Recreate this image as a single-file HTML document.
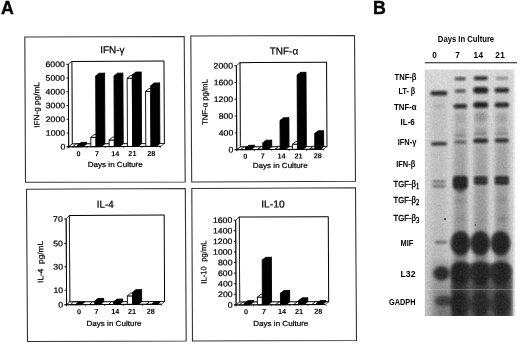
<!DOCTYPE html>
<html lang="en"><head><meta charset="utf-8"><title>Figure</title>
<style>html,body{margin:0;padding:0;background:#fff}svg{display:block}text{font-family:"Liberation Sans", sans-serif;fill:#000}.m{stroke:#000;stroke-width:0.35px}.n{stroke:#000;stroke-width:0.22px}</style></head><body>
<svg width="520" height="344" viewBox="0 0 520 344">
<rect x="0" y="0" width="520" height="344" fill="#fff"/>
<text x="0.9" y="14.1" font-size="17.8" text-anchor="start" font-weight="bold" class="m">A</text>
<text x="373.0" y="14.1" font-size="17.8" text-anchor="start" font-weight="bold" class="m">B</text>
<polygon points="24.80,37.00 184.20,36.50 185.20,182.00 25.50,182.20" fill="none" stroke="#333" stroke-width="1.1" stroke-linejoin="miter"/>
<polygon points="190.80,36.00 354.50,35.50 355.50,181.30 191.70,182.00" fill="none" stroke="#333" stroke-width="1.1" stroke-linejoin="miter"/>
<polygon points="26.50,189.20 185.30,188.50 186.20,341.00 27.50,341.50" fill="none" stroke="#333" stroke-width="1.1" stroke-linejoin="miter"/>
<polygon points="191.80,188.50 355.50,187.80 356.50,340.50 192.50,341.00" fill="none" stroke="#333" stroke-width="1.1" stroke-linejoin="miter"/>
<g transform="rotate(-0.28 108.3 108.9)">
<polygon points="72.00,61.25 164.20,61.25 164.20,143.80 72.00,143.80" fill="#fff" stroke="#000" stroke-width="1.0" stroke-linejoin="round"/>
<polygon points="68.50,64.10 72.00,61.25 72.00,143.80 68.50,146.60" fill="#fff" stroke="#000" stroke-width="0.7" stroke-linejoin="round"/>
<polygon points="68.50,146.60 72.00,143.80 164.20,143.80 160.70,146.60" fill="#fff" stroke="#000" stroke-width="0.7" stroke-linejoin="round"/>
<line x1="68.5" y1="64.1" x2="68.5" y2="148.1" stroke="#000" stroke-width="0.9"/>
<line x1="66.5" y1="146.6" x2="68.5" y2="146.6" stroke="#000" stroke-width="0.9"/>
<text x="65.1" y="149.29999999999998" font-size="7.9" text-anchor="end" font-weight="normal" textLength="4.85" lengthAdjust="spacingAndGlyphs" class="n">0</text>
<line x1="66.5" y1="132.85" x2="68.5" y2="132.85" stroke="#000" stroke-width="0.9"/>
<text x="65.1" y="135.54999999999998" font-size="7.9" text-anchor="end" font-weight="normal" textLength="19.4" lengthAdjust="spacingAndGlyphs" class="n">1000</text>
<line x1="66.5" y1="119.1" x2="68.5" y2="119.1" stroke="#000" stroke-width="0.9"/>
<text x="65.1" y="121.8" font-size="7.9" text-anchor="end" font-weight="normal" textLength="19.4" lengthAdjust="spacingAndGlyphs" class="n">2000</text>
<line x1="66.5" y1="105.35" x2="68.5" y2="105.35" stroke="#000" stroke-width="0.9"/>
<text x="65.1" y="108.05" font-size="7.9" text-anchor="end" font-weight="normal" textLength="19.4" lengthAdjust="spacingAndGlyphs" class="n">3000</text>
<line x1="66.5" y1="91.6" x2="68.5" y2="91.6" stroke="#000" stroke-width="0.9"/>
<text x="65.1" y="94.3" font-size="7.9" text-anchor="end" font-weight="normal" textLength="19.4" lengthAdjust="spacingAndGlyphs" class="n">4000</text>
<line x1="66.5" y1="77.85" x2="68.5" y2="77.85" stroke="#000" stroke-width="0.9"/>
<text x="65.1" y="80.55" font-size="7.9" text-anchor="end" font-weight="normal" textLength="19.4" lengthAdjust="spacingAndGlyphs" class="n">5000</text>
<line x1="66.5" y1="64.1" x2="68.5" y2="64.1" stroke="#000" stroke-width="0.9"/>
<text x="65.1" y="66.8" font-size="7.9" text-anchor="end" font-weight="normal" textLength="19.4" lengthAdjust="spacingAndGlyphs" class="n">6000</text>
<polygon points="72.30,146.60 77.50,146.60 81.00,143.80 75.80,143.80" fill="#fff" stroke="#000" stroke-width="0.9" stroke-linejoin="round"/>
<polygon points="82.90,146.60 86.40,143.80 86.40,142.30 82.90,145.10" fill="#000" stroke="#000" stroke-width="0.9" stroke-linejoin="round"/>
<polygon points="77.50,146.60 82.90,146.60 82.90,145.10 77.50,145.10" fill="#000" stroke="#000" stroke-width="0.9" stroke-linejoin="round"/>
<polygon points="77.50,145.10 82.90,145.10 86.40,142.30 81.00,142.30" fill="#000" stroke="#000" stroke-width="0.9" stroke-linejoin="round"/>
<polygon points="95.83,146.60 99.33,143.80 99.33,134.50 95.83,137.30" fill="#fff" stroke="#000" stroke-width="0.9" stroke-linejoin="round"/>
<polygon points="90.63,146.60 95.83,146.60 95.83,137.30 90.63,137.30" fill="#fff" stroke="#000" stroke-width="0.9" stroke-linejoin="round"/>
<polygon points="90.63,137.30 95.83,137.30 99.33,134.50 94.13,134.50" fill="#fff" stroke="#000" stroke-width="0.9" stroke-linejoin="round"/>
<polygon points="101.23,146.60 104.73,143.80 104.73,73.20 101.23,76.00" fill="#000" stroke="#000" stroke-width="0.9" stroke-linejoin="round"/>
<polygon points="95.83,146.60 101.23,146.60 101.23,76.00 95.83,76.00" fill="#000" stroke="#000" stroke-width="0.9" stroke-linejoin="round"/>
<polygon points="95.83,76.00 101.23,76.00 104.73,73.20 99.33,73.20" fill="#000" stroke="#000" stroke-width="0.9" stroke-linejoin="round"/>
<polygon points="114.16,146.60 117.66,143.80 117.66,137.20 114.16,140.00" fill="#fff" stroke="#000" stroke-width="0.9" stroke-linejoin="round"/>
<polygon points="108.96,146.60 114.16,146.60 114.16,140.00 108.96,140.00" fill="#fff" stroke="#000" stroke-width="0.9" stroke-linejoin="round"/>
<polygon points="108.96,140.00 114.16,140.00 117.66,137.20 112.46,137.20" fill="#fff" stroke="#000" stroke-width="0.9" stroke-linejoin="round"/>
<polygon points="119.56,146.60 123.06,143.80 123.06,73.20 119.56,76.00" fill="#000" stroke="#000" stroke-width="0.9" stroke-linejoin="round"/>
<polygon points="114.16,146.60 119.56,146.60 119.56,76.00 114.16,76.00" fill="#000" stroke="#000" stroke-width="0.9" stroke-linejoin="round"/>
<polygon points="114.16,76.00 119.56,76.00 123.06,73.20 117.66,73.20" fill="#000" stroke="#000" stroke-width="0.9" stroke-linejoin="round"/>
<polygon points="132.49,146.60 135.99,143.80 135.99,75.50 132.49,78.30" fill="#fff" stroke="#000" stroke-width="0.9" stroke-linejoin="round"/>
<polygon points="127.29,146.60 132.49,146.60 132.49,78.30 127.29,78.30" fill="#fff" stroke="#000" stroke-width="0.9" stroke-linejoin="round"/>
<polygon points="127.29,78.30 132.49,78.30 135.99,75.50 130.79,75.50" fill="#fff" stroke="#000" stroke-width="0.9" stroke-linejoin="round"/>
<polygon points="137.89,146.60 141.39,143.80 141.39,72.20 137.89,75.00" fill="#000" stroke="#000" stroke-width="0.9" stroke-linejoin="round"/>
<polygon points="132.49,146.60 137.89,146.60 137.89,75.00 132.49,75.00" fill="#000" stroke="#000" stroke-width="0.9" stroke-linejoin="round"/>
<polygon points="132.49,75.00 137.89,75.00 141.39,72.20 135.99,72.20" fill="#000" stroke="#000" stroke-width="0.9" stroke-linejoin="round"/>
<polygon points="150.82,146.60 154.32,143.80 154.32,88.80 150.82,91.60" fill="#fff" stroke="#000" stroke-width="0.9" stroke-linejoin="round"/>
<polygon points="145.62,146.60 150.82,146.60 150.82,91.60 145.62,91.60" fill="#fff" stroke="#000" stroke-width="0.9" stroke-linejoin="round"/>
<polygon points="145.62,91.60 150.82,91.60 154.32,88.80 149.12,88.80" fill="#fff" stroke="#000" stroke-width="0.9" stroke-linejoin="round"/>
<polygon points="156.22,146.60 159.72,143.80 159.72,83.20 156.22,86.00" fill="#000" stroke="#000" stroke-width="0.9" stroke-linejoin="round"/>
<polygon points="150.82,146.60 156.22,146.60 156.22,86.00 150.82,86.00" fill="#000" stroke="#000" stroke-width="0.9" stroke-linejoin="round"/>
<polygon points="150.82,86.00 156.22,86.00 159.72,83.20 154.32,83.20" fill="#000" stroke="#000" stroke-width="0.9" stroke-linejoin="round"/>
<line x1="66.3" y1="146.6" x2="160.7" y2="146.6" stroke="#000" stroke-width="0.9"/>
<text x="78.25" y="156.2" font-size="7.3" text-anchor="middle" font-weight="bold">0</text>
<text x="96.75" y="156.2" font-size="7.3" text-anchor="middle" font-weight="bold">7</text>
<text x="115" y="156.2" font-size="7.3" text-anchor="middle" font-weight="bold">14</text>
<text x="132.2" y="156.2" font-size="7.3" text-anchor="middle" font-weight="bold">21</text>
<text x="151" y="156.2" font-size="7.3" text-anchor="middle" font-weight="bold">28</text>
<line x1="86.77" y1="146.6" x2="86.77" y2="148.2" stroke="#000" stroke-width="0.6"/>
<line x1="105.09" y1="146.6" x2="105.09" y2="148.2" stroke="#000" stroke-width="0.6"/>
<line x1="123.42" y1="146.6" x2="123.42" y2="148.2" stroke="#000" stroke-width="0.6"/>
<line x1="141.75" y1="146.6" x2="141.75" y2="148.2" stroke="#000" stroke-width="0.6"/>
<line x1="160.08" y1="146.6" x2="160.08" y2="148.2" stroke="#000" stroke-width="0.6"/>
<text x="112.65" y="53.3" font-size="10.0" text-anchor="middle" font-weight="normal" textLength="24.3" lengthAdjust="spacingAndGlyphs" class="n">IFN-γ</text>
<text x="115" y="167" font-size="7.4" text-anchor="middle" font-weight="normal" textLength="55" lengthAdjust="spacingAndGlyphs" class="n">Days in Culture</text>
<text transform="translate(39.3,104.6) rotate(-90)" font-size="7.8" text-anchor="middle" class="n" textLength="45.6" lengthAdjust="spacingAndGlyphs" style="white-space:pre">IFN-g pg/mL</text>
</g>
<g transform="rotate(-0.28 273.7 111.0)">
<polygon points="240.10,62.50 326.80,62.50 326.80,146.80 240.10,146.80" fill="#fff" stroke="#000" stroke-width="1.0" stroke-linejoin="round"/>
<polygon points="236.60,65.50 240.10,62.50 240.10,146.80 236.60,149.50" fill="#fff" stroke="#000" stroke-width="0.7" stroke-linejoin="round"/>
<polygon points="236.60,149.50 240.10,146.80 326.80,146.80 323.30,149.50" fill="#fff" stroke="#000" stroke-width="0.7" stroke-linejoin="round"/>
<line x1="236.6" y1="65.5" x2="236.6" y2="151.0" stroke="#000" stroke-width="0.9"/>
<line x1="234.6" y1="149.5" x2="236.6" y2="149.5" stroke="#000" stroke-width="0.9"/>
<text x="233.2" y="152.2" font-size="7.9" text-anchor="end" font-weight="normal" textLength="4.85" lengthAdjust="spacingAndGlyphs" class="n">0</text>
<line x1="234.6" y1="132.7" x2="236.6" y2="132.7" stroke="#000" stroke-width="0.9"/>
<text x="233.2" y="135.39999999999998" font-size="7.9" text-anchor="end" font-weight="normal" textLength="14.55" lengthAdjust="spacingAndGlyphs" class="n">400</text>
<line x1="234.6" y1="115.9" x2="236.6" y2="115.9" stroke="#000" stroke-width="0.9"/>
<text x="233.2" y="118.60000000000001" font-size="7.9" text-anchor="end" font-weight="normal" textLength="14.55" lengthAdjust="spacingAndGlyphs" class="n">800</text>
<line x1="234.6" y1="99.1" x2="236.6" y2="99.1" stroke="#000" stroke-width="0.9"/>
<text x="233.2" y="101.8" font-size="7.9" text-anchor="end" font-weight="normal" textLength="19.4" lengthAdjust="spacingAndGlyphs" class="n">1200</text>
<line x1="234.6" y1="82.3" x2="236.6" y2="82.3" stroke="#000" stroke-width="0.9"/>
<text x="233.2" y="85.0" font-size="7.9" text-anchor="end" font-weight="normal" textLength="19.4" lengthAdjust="spacingAndGlyphs" class="n">1600</text>
<line x1="234.6" y1="65.5" x2="236.6" y2="65.5" stroke="#000" stroke-width="0.9"/>
<text x="233.2" y="68.2" font-size="7.9" text-anchor="end" font-weight="normal" textLength="19.4" lengthAdjust="spacingAndGlyphs" class="n">2000</text>
<polygon points="240.30,149.50 245.30,149.50 248.80,146.80 243.80,146.80" fill="#fff" stroke="#000" stroke-width="0.9" stroke-linejoin="round"/>
<polygon points="250.70,149.50 254.20,146.80 254.20,145.20 250.70,147.90" fill="#000" stroke="#000" stroke-width="0.9" stroke-linejoin="round"/>
<polygon points="245.30,149.50 250.70,149.50 250.70,147.90 245.30,147.90" fill="#000" stroke="#000" stroke-width="0.9" stroke-linejoin="round"/>
<polygon points="245.30,147.90 250.70,147.90 254.20,145.20 248.80,145.20" fill="#000" stroke="#000" stroke-width="0.9" stroke-linejoin="round"/>
<polygon points="262.63,149.50 266.13,146.80 266.13,146.40 262.63,149.10" fill="#fff" stroke="#000" stroke-width="0.9" stroke-linejoin="round"/>
<polygon points="257.63,149.50 262.63,149.50 262.63,149.10 257.63,149.10" fill="#fff" stroke="#000" stroke-width="0.9" stroke-linejoin="round"/>
<polygon points="257.63,149.10 262.63,149.10 266.13,146.40 261.13,146.40" fill="#fff" stroke="#000" stroke-width="0.9" stroke-linejoin="round"/>
<polygon points="268.03,149.50 271.53,146.80 271.53,140.20 268.03,142.90" fill="#000" stroke="#000" stroke-width="0.9" stroke-linejoin="round"/>
<polygon points="262.63,149.50 268.03,149.50 268.03,142.90 262.63,142.90" fill="#000" stroke="#000" stroke-width="0.9" stroke-linejoin="round"/>
<polygon points="262.63,142.90 268.03,142.90 271.53,140.20 266.13,140.20" fill="#000" stroke="#000" stroke-width="0.9" stroke-linejoin="round"/>
<polygon points="279.96,149.50 283.46,146.80 283.46,146.40 279.96,149.10" fill="#fff" stroke="#000" stroke-width="0.9" stroke-linejoin="round"/>
<polygon points="274.96,149.50 279.96,149.50 279.96,149.10 274.96,149.10" fill="#fff" stroke="#000" stroke-width="0.9" stroke-linejoin="round"/>
<polygon points="274.96,149.10 279.96,149.10 283.46,146.40 278.46,146.40" fill="#fff" stroke="#000" stroke-width="0.9" stroke-linejoin="round"/>
<polygon points="285.36,149.50 288.86,146.80 288.86,117.80 285.36,120.50" fill="#000" stroke="#000" stroke-width="0.9" stroke-linejoin="round"/>
<polygon points="279.96,149.50 285.36,149.50 285.36,120.50 279.96,120.50" fill="#000" stroke="#000" stroke-width="0.9" stroke-linejoin="round"/>
<polygon points="279.96,120.50 285.36,120.50 288.86,117.80 283.46,117.80" fill="#000" stroke="#000" stroke-width="0.9" stroke-linejoin="round"/>
<polygon points="297.29,149.50 300.79,146.80 300.79,141.60 297.29,144.30" fill="#fff" stroke="#000" stroke-width="0.9" stroke-linejoin="round"/>
<polygon points="292.29,149.50 297.29,149.50 297.29,144.30 292.29,144.30" fill="#fff" stroke="#000" stroke-width="0.9" stroke-linejoin="round"/>
<polygon points="292.29,144.30 297.29,144.30 300.79,141.60 295.79,141.60" fill="#fff" stroke="#000" stroke-width="0.9" stroke-linejoin="round"/>
<polygon points="302.69,149.50 306.19,146.80 306.19,72.50 302.69,75.20" fill="#000" stroke="#000" stroke-width="0.9" stroke-linejoin="round"/>
<polygon points="297.29,149.50 302.69,149.50 302.69,75.20 297.29,75.20" fill="#000" stroke="#000" stroke-width="0.9" stroke-linejoin="round"/>
<polygon points="297.29,75.20 302.69,75.20 306.19,72.50 300.79,72.50" fill="#000" stroke="#000" stroke-width="0.9" stroke-linejoin="round"/>
<polygon points="314.62,149.50 318.12,146.80 318.12,146.40 314.62,149.10" fill="#fff" stroke="#000" stroke-width="0.9" stroke-linejoin="round"/>
<polygon points="309.62,149.50 314.62,149.50 314.62,149.10 309.62,149.10" fill="#fff" stroke="#000" stroke-width="0.9" stroke-linejoin="round"/>
<polygon points="309.62,149.10 314.62,149.10 318.12,146.40 313.12,146.40" fill="#fff" stroke="#000" stroke-width="0.9" stroke-linejoin="round"/>
<polygon points="320.02,149.50 323.52,146.80 323.52,131.00 320.02,133.70" fill="#000" stroke="#000" stroke-width="0.9" stroke-linejoin="round"/>
<polygon points="314.62,149.50 320.02,149.50 320.02,133.70 314.62,133.70" fill="#000" stroke="#000" stroke-width="0.9" stroke-linejoin="round"/>
<polygon points="314.62,133.70 320.02,133.70 323.52,131.00 318.12,131.00" fill="#000" stroke="#000" stroke-width="0.9" stroke-linejoin="round"/>
<line x1="234.4" y1="149.5" x2="323.3" y2="149.5" stroke="#000" stroke-width="0.9"/>
<text x="245" y="158.5" font-size="7.3" text-anchor="middle" font-weight="bold">0</text>
<text x="262.5" y="158.5" font-size="7.3" text-anchor="middle" font-weight="bold">7</text>
<text x="281.25" y="158.5" font-size="7.3" text-anchor="middle" font-weight="bold">14</text>
<text x="298.25" y="158.5" font-size="7.3" text-anchor="middle" font-weight="bold">21</text>
<text x="317.5" y="158.5" font-size="7.3" text-anchor="middle" font-weight="bold">28</text>
<line x1="254.16" y1="149.5" x2="254.16" y2="151.1" stroke="#000" stroke-width="0.6"/>
<line x1="271.50" y1="149.5" x2="271.50" y2="151.1" stroke="#000" stroke-width="0.6"/>
<line x1="288.83" y1="149.5" x2="288.83" y2="151.1" stroke="#000" stroke-width="0.6"/>
<line x1="306.16" y1="149.5" x2="306.16" y2="151.1" stroke="#000" stroke-width="0.6"/>
<line x1="323.49" y1="149.5" x2="323.49" y2="151.1" stroke="#000" stroke-width="0.6"/>
<text x="284.25" y="54.5" font-size="10.0" text-anchor="middle" font-weight="normal" textLength="28.5" lengthAdjust="spacingAndGlyphs" class="n">TNF-α</text>
<text x="280" y="168.0" font-size="7.4" text-anchor="middle" font-weight="normal" textLength="55" lengthAdjust="spacingAndGlyphs" class="n">Days in Culture</text>
<text transform="translate(207.6,101.75) rotate(-90)" font-size="7.8" text-anchor="middle" class="n" textLength="46" lengthAdjust="spacingAndGlyphs" style="white-space:pre">TNF-α pg/mL</text>
</g>
<g transform="rotate(-0.28 107.4 264.9)">
<polygon points="69.60,215.40 164.40,215.40 164.40,301.80 69.60,301.80" fill="#fff" stroke="#000" stroke-width="1.0" stroke-linejoin="round"/>
<polygon points="66.40,218.75 69.60,215.40 69.60,301.80 66.40,304.50" fill="#fff" stroke="#000" stroke-width="0.7" stroke-linejoin="round"/>
<polygon points="66.40,304.50 69.60,301.80 164.40,301.80 161.20,304.50" fill="#fff" stroke="#000" stroke-width="0.7" stroke-linejoin="round"/>
<line x1="66.4" y1="218.75" x2="66.4" y2="306.0" stroke="#000" stroke-width="0.9"/>
<line x1="64.4" y1="304.5" x2="66.4" y2="304.5" stroke="#000" stroke-width="0.9"/>
<text x="63.00000000000001" y="307.2" font-size="7.9" text-anchor="end" font-weight="normal" textLength="4.85" lengthAdjust="spacingAndGlyphs" class="n">0</text>
<line x1="64.4" y1="290.0" x2="66.4" y2="290.0" stroke="#000" stroke-width="0.9"/>
<text x="63.00000000000001" y="292.7" font-size="7.9" text-anchor="end" font-weight="normal" textLength="9.7" lengthAdjust="spacingAndGlyphs" class="n">10</text>
<line x1="64.4" y1="266.6" x2="66.4" y2="266.6" stroke="#000" stroke-width="0.9"/>
<text x="63.00000000000001" y="269.3" font-size="7.9" text-anchor="end" font-weight="normal" textLength="9.7" lengthAdjust="spacingAndGlyphs" class="n">30</text>
<line x1="64.4" y1="243.2" x2="66.4" y2="243.2" stroke="#000" stroke-width="0.9"/>
<text x="63.00000000000001" y="245.89999999999998" font-size="7.9" text-anchor="end" font-weight="normal" textLength="9.7" lengthAdjust="spacingAndGlyphs" class="n">50</text>
<line x1="64.4" y1="218.75" x2="66.4" y2="218.75" stroke="#000" stroke-width="0.9"/>
<text x="63.00000000000001" y="221.45" font-size="7.9" text-anchor="end" font-weight="normal" textLength="9.7" lengthAdjust="spacingAndGlyphs" class="n">70</text>
<polygon points="70.20,304.50 75.50,304.50 78.70,301.80 73.40,301.80" fill="#fff" stroke="#000" stroke-width="0.9" stroke-linejoin="round"/>
<polygon points="75.50,304.50 81.30,304.50 84.50,301.80 78.70,301.80" fill="#000" stroke="#000" stroke-width="0.9" stroke-linejoin="round"/>
<polygon points="89.20,304.50 94.50,304.50 97.70,301.80 92.40,301.80" fill="#fff" stroke="#000" stroke-width="0.9" stroke-linejoin="round"/>
<polygon points="100.30,304.50 103.50,301.80 103.50,298.40 100.30,301.10" fill="#000" stroke="#000" stroke-width="0.9" stroke-linejoin="round"/>
<polygon points="94.50,304.50 100.30,304.50 100.30,301.10 94.50,301.10" fill="#000" stroke="#000" stroke-width="0.9" stroke-linejoin="round"/>
<polygon points="94.50,301.10 100.30,301.10 103.50,298.40 97.70,298.40" fill="#000" stroke="#000" stroke-width="0.9" stroke-linejoin="round"/>
<polygon points="108.20,304.50 113.50,304.50 116.70,301.80 111.40,301.80" fill="#fff" stroke="#000" stroke-width="0.9" stroke-linejoin="round"/>
<polygon points="119.30,304.50 122.50,301.80 122.50,299.20 119.30,301.90" fill="#000" stroke="#000" stroke-width="0.9" stroke-linejoin="round"/>
<polygon points="113.50,304.50 119.30,304.50 119.30,301.90 113.50,301.90" fill="#000" stroke="#000" stroke-width="0.9" stroke-linejoin="round"/>
<polygon points="113.50,301.90 119.30,301.90 122.50,299.20 116.70,299.20" fill="#000" stroke="#000" stroke-width="0.9" stroke-linejoin="round"/>
<polygon points="132.50,304.50 135.70,301.80 135.70,293.30 132.50,296.00" fill="#fff" stroke="#000" stroke-width="0.9" stroke-linejoin="round"/>
<polygon points="127.20,304.50 132.50,304.50 132.50,296.00 127.20,296.00" fill="#fff" stroke="#000" stroke-width="0.9" stroke-linejoin="round"/>
<polygon points="127.20,296.00 132.50,296.00 135.70,293.30 130.40,293.30" fill="#fff" stroke="#000" stroke-width="0.9" stroke-linejoin="round"/>
<polygon points="138.30,304.50 141.50,301.80 141.50,289.80 138.30,292.50" fill="#000" stroke="#000" stroke-width="0.9" stroke-linejoin="round"/>
<polygon points="132.50,304.50 138.30,304.50 138.30,292.50 132.50,292.50" fill="#000" stroke="#000" stroke-width="0.9" stroke-linejoin="round"/>
<polygon points="132.50,292.50 138.30,292.50 141.50,289.80 135.70,289.80" fill="#000" stroke="#000" stroke-width="0.9" stroke-linejoin="round"/>
<polygon points="146.20,304.50 151.50,304.50 154.70,301.80 149.40,301.80" fill="#fff" stroke="#000" stroke-width="0.9" stroke-linejoin="round"/>
<polygon points="151.50,304.50 157.30,304.50 160.50,301.80 154.70,301.80" fill="#000" stroke="#000" stroke-width="0.9" stroke-linejoin="round"/>
<line x1="64.2" y1="304.5" x2="161.20000000000002" y2="304.5" stroke="#000" stroke-width="0.9"/>
<text x="78.75" y="314.0" font-size="7.3" text-anchor="middle" font-weight="bold">0</text>
<text x="96.25" y="314.0" font-size="7.3" text-anchor="middle" font-weight="bold">7</text>
<text x="115" y="314.0" font-size="7.3" text-anchor="middle" font-weight="bold">14</text>
<text x="131.75" y="314.0" font-size="7.3" text-anchor="middle" font-weight="bold">21</text>
<text x="150.5" y="314.0" font-size="7.3" text-anchor="middle" font-weight="bold">28</text>
<line x1="85.25" y1="304.5" x2="85.25" y2="306.1" stroke="#000" stroke-width="0.6"/>
<line x1="104.25" y1="304.5" x2="104.25" y2="306.1" stroke="#000" stroke-width="0.6"/>
<line x1="123.25" y1="304.5" x2="123.25" y2="306.1" stroke="#000" stroke-width="0.6"/>
<line x1="142.25" y1="304.5" x2="142.25" y2="306.1" stroke="#000" stroke-width="0.6"/>
<line x1="161.25" y1="304.5" x2="161.25" y2="306.1" stroke="#000" stroke-width="0.6"/>
<text x="105.5" y="207.8" font-size="10.0" text-anchor="middle" font-weight="normal" textLength="17" lengthAdjust="spacingAndGlyphs" class="n">IL-4</text>
<text x="113.75" y="326" font-size="7.4" text-anchor="middle" font-weight="normal" textLength="55" lengthAdjust="spacingAndGlyphs" class="n">Days in Culture</text>
<text transform="translate(43.2,261.6) rotate(-90)" font-size="7.8" text-anchor="middle" class="n" textLength="42" lengthAdjust="spacingAndGlyphs" style="white-space:pre">IL-4  pg/mL</text>
</g>
<g transform="rotate(-0.28 274.2 265.8)">
<polygon points="239.50,216.90 328.50,216.90 328.50,302.00 239.50,302.00" fill="#fff" stroke="#000" stroke-width="1.0" stroke-linejoin="round"/>
<polygon points="235.90,220.00 239.50,216.90 239.50,302.00 235.90,304.75" fill="#fff" stroke="#000" stroke-width="0.7" stroke-linejoin="round"/>
<polygon points="235.90,304.75 239.50,302.00 328.50,302.00 324.90,304.75" fill="#fff" stroke="#000" stroke-width="0.7" stroke-linejoin="round"/>
<line x1="235.9" y1="220.0" x2="235.9" y2="306.25" stroke="#000" stroke-width="0.9"/>
<line x1="233.9" y1="304.75" x2="235.9" y2="304.75" stroke="#000" stroke-width="0.9"/>
<text x="232.5" y="307.45" font-size="7.9" text-anchor="end" font-weight="normal" textLength="4.85" lengthAdjust="spacingAndGlyphs" class="n">0</text>
<line x1="233.9" y1="294.15" x2="235.9" y2="294.15" stroke="#000" stroke-width="0.9"/>
<text x="232.5" y="296.84999999999997" font-size="7.9" text-anchor="end" font-weight="normal" textLength="14.55" lengthAdjust="spacingAndGlyphs" class="n">200</text>
<line x1="233.9" y1="283.55" x2="235.9" y2="283.55" stroke="#000" stroke-width="0.9"/>
<text x="232.5" y="286.25" font-size="7.9" text-anchor="end" font-weight="normal" textLength="14.55" lengthAdjust="spacingAndGlyphs" class="n">400</text>
<line x1="233.9" y1="272.95" x2="235.9" y2="272.95" stroke="#000" stroke-width="0.9"/>
<text x="232.5" y="275.65" font-size="7.9" text-anchor="end" font-weight="normal" textLength="14.55" lengthAdjust="spacingAndGlyphs" class="n">600</text>
<line x1="233.9" y1="262.35" x2="235.9" y2="262.35" stroke="#000" stroke-width="0.9"/>
<text x="232.5" y="265.05" font-size="7.9" text-anchor="end" font-weight="normal" textLength="14.55" lengthAdjust="spacingAndGlyphs" class="n">800</text>
<line x1="233.9" y1="251.75" x2="235.9" y2="251.75" stroke="#000" stroke-width="0.9"/>
<text x="232.5" y="254.45" font-size="7.9" text-anchor="end" font-weight="normal" textLength="19.4" lengthAdjust="spacingAndGlyphs" class="n">1000</text>
<line x1="233.9" y1="241.15" x2="235.9" y2="241.15" stroke="#000" stroke-width="0.9"/>
<text x="232.5" y="243.85" font-size="7.9" text-anchor="end" font-weight="normal" textLength="19.4" lengthAdjust="spacingAndGlyphs" class="n">1200</text>
<line x1="233.9" y1="230.55" x2="235.9" y2="230.55" stroke="#000" stroke-width="0.9"/>
<text x="232.5" y="233.25" font-size="7.9" text-anchor="end" font-weight="normal" textLength="19.4" lengthAdjust="spacingAndGlyphs" class="n">1400</text>
<line x1="233.9" y1="219.95" x2="235.9" y2="219.95" stroke="#000" stroke-width="0.9"/>
<text x="232.5" y="222.64999999999998" font-size="7.9" text-anchor="end" font-weight="normal" textLength="19.4" lengthAdjust="spacingAndGlyphs" class="n">1600</text>
<polygon points="239.10,304.75 244.10,304.75 247.70,302.00 242.70,302.00" fill="#fff" stroke="#000" stroke-width="0.9" stroke-linejoin="round"/>
<polygon points="249.70,304.75 253.30,302.00 253.30,300.50 249.70,303.25" fill="#000" stroke="#000" stroke-width="0.9" stroke-linejoin="round"/>
<polygon points="244.10,304.75 249.70,304.75 249.70,303.25 244.10,303.25" fill="#000" stroke="#000" stroke-width="0.9" stroke-linejoin="round"/>
<polygon points="244.10,303.25 249.70,303.25 253.30,300.50 247.70,300.50" fill="#000" stroke="#000" stroke-width="0.9" stroke-linejoin="round"/>
<polygon points="262.20,304.75 265.80,302.00 265.80,294.25 262.20,297.00" fill="#fff" stroke="#000" stroke-width="0.9" stroke-linejoin="round"/>
<polygon points="257.20,304.75 262.20,304.75 262.20,297.00 257.20,297.00" fill="#fff" stroke="#000" stroke-width="0.9" stroke-linejoin="round"/>
<polygon points="257.20,297.00 262.20,297.00 265.80,294.25 260.80,294.25" fill="#fff" stroke="#000" stroke-width="0.9" stroke-linejoin="round"/>
<polygon points="267.80,304.75 271.40,302.00 271.40,257.30 267.80,260.05" fill="#000" stroke="#000" stroke-width="0.9" stroke-linejoin="round"/>
<polygon points="262.20,304.75 267.80,304.75 267.80,260.05 262.20,260.05" fill="#000" stroke="#000" stroke-width="0.9" stroke-linejoin="round"/>
<polygon points="262.20,260.05 267.80,260.05 271.40,257.30 265.80,257.30" fill="#000" stroke="#000" stroke-width="0.9" stroke-linejoin="round"/>
<polygon points="275.30,304.75 280.30,304.75 283.90,302.00 278.90,302.00" fill="#fff" stroke="#000" stroke-width="0.9" stroke-linejoin="round"/>
<polygon points="285.90,304.75 289.50,302.00 289.50,290.50 285.90,293.25" fill="#000" stroke="#000" stroke-width="0.9" stroke-linejoin="round"/>
<polygon points="280.30,304.75 285.90,304.75 285.90,293.25 280.30,293.25" fill="#000" stroke="#000" stroke-width="0.9" stroke-linejoin="round"/>
<polygon points="280.30,293.25 285.90,293.25 289.50,290.50 283.90,290.50" fill="#000" stroke="#000" stroke-width="0.9" stroke-linejoin="round"/>
<polygon points="293.40,304.75 298.40,304.75 302.00,302.00 297.00,302.00" fill="#fff" stroke="#000" stroke-width="0.9" stroke-linejoin="round"/>
<polygon points="304.00,304.75 307.60,302.00 307.60,298.00 304.00,300.75" fill="#000" stroke="#000" stroke-width="0.9" stroke-linejoin="round"/>
<polygon points="298.40,304.75 304.00,304.75 304.00,300.75 298.40,300.75" fill="#000" stroke="#000" stroke-width="0.9" stroke-linejoin="round"/>
<polygon points="298.40,300.75 304.00,300.75 307.60,298.00 302.00,298.00" fill="#000" stroke="#000" stroke-width="0.9" stroke-linejoin="round"/>
<polygon points="311.50,304.75 316.50,304.75 320.10,302.00 315.10,302.00" fill="#fff" stroke="#000" stroke-width="0.9" stroke-linejoin="round"/>
<polygon points="322.10,304.75 325.70,302.00 325.70,300.80 322.10,303.55" fill="#000" stroke="#000" stroke-width="0.9" stroke-linejoin="round"/>
<polygon points="316.50,304.75 322.10,304.75 322.10,303.55 316.50,303.55" fill="#000" stroke="#000" stroke-width="0.9" stroke-linejoin="round"/>
<polygon points="316.50,303.55 322.10,303.55 325.70,300.80 320.10,300.80" fill="#000" stroke="#000" stroke-width="0.9" stroke-linejoin="round"/>
<line x1="233.70000000000002" y1="304.75" x2="324.9" y2="304.75" stroke="#000" stroke-width="0.9"/>
<text x="245.8" y="314.0" font-size="7.3" text-anchor="middle" font-weight="bold">0</text>
<text x="263.8" y="314.0" font-size="7.3" text-anchor="middle" font-weight="bold">7</text>
<text x="281.75" y="314.0" font-size="7.3" text-anchor="middle" font-weight="bold">14</text>
<text x="298.75" y="314.0" font-size="7.3" text-anchor="middle" font-weight="bold">21</text>
<text x="318" y="314.0" font-size="7.3" text-anchor="middle" font-weight="bold">28</text>
<line x1="253.45" y1="304.75" x2="253.45" y2="306.35" stroke="#000" stroke-width="0.6"/>
<line x1="271.55" y1="304.75" x2="271.55" y2="306.35" stroke="#000" stroke-width="0.6"/>
<line x1="289.65" y1="304.75" x2="289.65" y2="306.35" stroke="#000" stroke-width="0.6"/>
<line x1="307.75" y1="304.75" x2="307.75" y2="306.35" stroke="#000" stroke-width="0.6"/>
<line x1="325.85" y1="304.75" x2="325.85" y2="306.35" stroke="#000" stroke-width="0.6"/>
<text x="273.25" y="207.5" font-size="10.0" text-anchor="middle" font-weight="normal" textLength="23.5" lengthAdjust="spacingAndGlyphs" class="n">IL-10</text>
<text x="280.5" y="326" font-size="7.4" text-anchor="middle" font-weight="normal" textLength="55" lengthAdjust="spacingAndGlyphs" class="n">Days in Culture</text>
<text transform="translate(206.3,261.7) rotate(-90)" font-size="7.8" text-anchor="middle" class="n" textLength="43.3" lengthAdjust="spacingAndGlyphs" style="white-space:pre">IL-10  pg/mL</text>
</g>
<text x="466" y="41.5" font-size="8.4" text-anchor="middle" font-weight="bold" textLength="56.3" lengthAdjust="spacingAndGlyphs">Days In Culture</text>
<text x="434.5" y="57.8" font-size="8.2" text-anchor="middle" font-weight="bold">0</text>
<text x="457.5" y="57.8" font-size="8.2" text-anchor="middle" font-weight="bold">7</text>
<text x="478.5" y="57.8" font-size="8.2" text-anchor="middle" font-weight="bold" letter-spacing="0.5">14</text>
<text x="500.2" y="57.8" font-size="8.2" text-anchor="middle" font-weight="bold" letter-spacing="0.5">21</text>
<line x1="424.8" y1="62.8" x2="517" y2="62.8" stroke="#111" stroke-width="1.1"/>
<text x="416.5" y="80.0" font-size="8.4" text-anchor="end" font-weight="bold" textLength="22.0" lengthAdjust="spacingAndGlyphs" style="white-space:pre">TNF-β</text>
<text x="415.2" y="93.6" font-size="8.4" text-anchor="end" font-weight="bold" textLength="16.6" lengthAdjust="spacingAndGlyphs" style="white-space:pre">LT- β</text>
<text x="416.5" y="109.5" font-size="8.4" text-anchor="end" font-weight="bold" textLength="22.4" lengthAdjust="spacingAndGlyphs" style="white-space:pre">TNF-α</text>
<text x="414.8" y="125.0" font-size="8.4" text-anchor="end" font-weight="bold" textLength="14.2" lengthAdjust="spacingAndGlyphs" style="white-space:pre">IL-6</text>
<text x="416.5" y="145.0" font-size="8.4" text-anchor="end" font-weight="bold" textLength="18.8" lengthAdjust="spacingAndGlyphs" style="white-space:pre">IFN-γ</text>
<text x="415.2" y="167.0" font-size="8.4" text-anchor="end" font-weight="bold" textLength="19.0" lengthAdjust="spacingAndGlyphs" style="white-space:pre">IFN-β</text>
<text x="419.2" y="186.9" font-size="8.4" text-anchor="end" font-weight="normal" textLength="25.6" lengthAdjust="spacingAndGlyphs" class="m" style="white-space:pre">TGF-β<tspan font-size="7.2" dy="2" font-weight="normal" font-family="Liberation Serif, serif">1</tspan></text>
<text x="419.2" y="202.8" font-size="8.4" text-anchor="end" font-weight="normal" textLength="25.6" lengthAdjust="spacingAndGlyphs" class="m" style="white-space:pre">TGF-β<tspan font-size="7.2" dy="2" font-weight="normal" font-family="Liberation Serif, serif">2</tspan></text>
<text x="419.2" y="220.8" font-size="8.4" text-anchor="end" font-weight="normal" textLength="25.6" lengthAdjust="spacingAndGlyphs" class="m" style="white-space:pre">TGF-β<tspan font-size="7.2" dy="2" font-weight="normal" font-family="Liberation Serif, serif">3</tspan></text>
<text x="413.3" y="245.8" font-size="8.4" text-anchor="end" font-weight="bold" textLength="12.8" lengthAdjust="spacingAndGlyphs" style="white-space:pre">MIF</text>
<text x="415.5" y="277.0" font-size="8.4" text-anchor="end" font-weight="bold" textLength="15.0" lengthAdjust="spacingAndGlyphs" style="white-space:pre">L32</text>
<text x="415.5" y="305.0" font-size="8.4" text-anchor="end" font-weight="bold" textLength="26.4" lengthAdjust="spacingAndGlyphs" style="white-space:pre">GADPH</text>
<defs>
<clipPath id="gc"><rect x="424.8" y="69.6" width="90.4" height="246.4"/></clipPath>
<linearGradient id="gbg" x1="0" y1="0" x2="0" y2="1"><stop offset="0" stop-color="#d6d6d6"/><stop offset="0.5" stop-color="#d0d0d0"/><stop offset="0.75" stop-color="#c8c8c8"/><stop offset="1" stop-color="#c0c0c0"/></linearGradient>
<filter id="b0" x="-40%" y="-40%" width="180%" height="180%"><feGaussianBlur stdDeviation="0.5"/></filter>
<filter id="b1" x="-40%" y="-40%" width="180%" height="180%"><feGaussianBlur stdDeviation="0.9"/></filter>
<filter id="b2" x="-40%" y="-40%" width="180%" height="180%"><feGaussianBlur stdDeviation="1.6"/></filter>
<filter id="b3" x="-40%" y="-40%" width="180%" height="180%"><feGaussianBlur stdDeviation="3.0"/></filter>
<filter id="b4" x="-40%" y="-40%" width="180%" height="180%"><feGaussianBlur stdDeviation="4.5"/></filter>
<filter id="bs" x="-40%" y="-10%" width="180%" height="120%"><feGaussianBlur stdDeviation="1.9 7"/></filter>
<filter id="grain" x="0" y="0" width="100%" height="100%" color-interpolation-filters="sRGB"><feTurbulence type="fractalNoise" baseFrequency="0.55" numOctaves="3" seed="11" result="n"/><feColorMatrix in="n" type="matrix" values="0.33 0.33 0.33 0 0  0.33 0.33 0.33 0 0  0.33 0.33 0.33 0 0  0 0 0 0 1" result="g"/><feComposite in="SourceGraphic" in2="g" operator="arithmetic" k1="0" k2="0.92" k3="0.26" k4="-0.06"/></filter>
</defs>
<g clip-path="url(#gc)"><g filter="url(#grain)">
<rect x="420" y="65" width="100" height="256" fill="url(#gbg)"/>
<linearGradient id="sg" gradientUnits="userSpaceOnUse" x1="0" y1="80" x2="0" y2="330"><stop offset="0" stop-color="#000" stop-opacity="0.04"/><stop offset="0.12" stop-color="#000" stop-opacity="0.14"/><stop offset="0.3" stop-color="#000" stop-opacity="0.25"/><stop offset="0.6" stop-color="#000" stop-opacity="0.30"/><stop offset="0.75" stop-color="#000" stop-opacity="0.45"/><stop offset="1" stop-color="#000" stop-opacity="0.5"/></linearGradient>
<rect x="431.0" y="92" width="16" height="240" fill="#000" opacity="0.10" filter="url(#b3)"/>
<rect x="453.5" y="80" width="13.6" height="250" fill="url(#sg)" filter="url(#bs)"/>
<rect x="474.0" y="80" width="13.6" height="250" fill="url(#sg)" filter="url(#bs)"/>
<rect x="495.0" y="80" width="13.6" height="250" fill="url(#sg)" filter="url(#bs)"/>
<rect x="454.8" y="77.3" width="11" height="3.0" rx="1.5" fill="#0a0a0a" opacity="0.80" filter="url(#b1)"/>
<rect x="473.8" y="76.2" width="14" height="4.0" rx="2.0" fill="#0a0a0a" opacity="0.92" filter="url(#b1)"/>
<rect x="495.8" y="76.9" width="12" height="2.6" rx="1.3" fill="#0a0a0a" opacity="0.45" filter="url(#b1)"/>
<rect x="430.5" y="91.0" width="17" height="4.6" rx="2.3" fill="#0a0a0a" opacity="0.93" filter="url(#b1)"/>
<rect x="454.8" y="89.5" width="11" height="3.0" rx="1.5" fill="#0a0a0a" opacity="0.75" filter="url(#b1)"/>
<rect x="473.3" y="87.0" width="15" height="6.4" rx="3.2" fill="#0a0a0a" opacity="0.97" filter="url(#b1)"/>
<rect x="494.6" y="87.7" width="14.5" height="5.0" rx="2.5" fill="#0a0a0a" opacity="0.92" filter="url(#b1)"/>
<rect x="433.0" y="104.0" width="12" height="4" rx="2.0" fill="#0a0a0a" opacity="0.10" filter="url(#b2)"/>
<rect x="453.6" y="104.0" width="13.5" height="4.6" rx="2.3" fill="#0a0a0a" opacity="0.92" filter="url(#b1)"/>
<rect x="473.3" y="101.9" width="15" height="6.2" rx="3.1" fill="#0a0a0a" opacity="0.96" filter="url(#b1)"/>
<rect x="494.6" y="102.5" width="14.5" height="5.0" rx="2.5" fill="#0a0a0a" opacity="0.92" filter="url(#b1)"/>
<rect x="454.8" y="114.0" width="11" height="8" rx="4.0" fill="#0a0a0a" opacity="0.10" filter="url(#b2)"/>
<rect x="474.3" y="112.0" width="13" height="10" rx="5.0" fill="#0a0a0a" opacity="0.20" filter="url(#b2)"/>
<rect x="495.8" y="114.0" width="12" height="8" rx="4.0" fill="#0a0a0a" opacity="0.12" filter="url(#b2)"/>
<rect x="454.8" y="134.5" width="11" height="2.2" rx="1.1" fill="#0a0a0a" opacity="0.35" filter="url(#b1)"/>
<rect x="474.3" y="132.5" width="13" height="2.4" rx="1.2" fill="#0a0a0a" opacity="0.35" filter="url(#b1)"/>
<rect x="495.8" y="132.5" width="12" height="2.4" rx="1.2" fill="#0a0a0a" opacity="0.32" filter="url(#b1)"/>
<rect x="474.8" y="128.5" width="12" height="2.0" rx="1.0" fill="#0a0a0a" opacity="0.20" filter="url(#b1)"/>
<rect x="496.3" y="128.5" width="11" height="2.0" rx="1.0" fill="#0a0a0a" opacity="0.15" filter="url(#b1)"/>
<rect x="455.3" y="130.5" width="10" height="2.0" rx="1.0" fill="#0a0a0a" opacity="0.15" filter="url(#b1)"/>
<rect x="431.0" y="142.0" width="16" height="3.6" rx="1.8" fill="#0a0a0a" opacity="0.88" filter="url(#b1)"/>
<rect x="454.3" y="140.6" width="12" height="2.8" rx="1.4" fill="#0a0a0a" opacity="0.55" filter="url(#b1)"/>
<rect x="473.3" y="138.5" width="15" height="4.6" rx="2.3" fill="#0a0a0a" opacity="0.92" filter="url(#b1)"/>
<rect x="494.8" y="138.4" width="14" height="4.2" rx="2.1" fill="#0a0a0a" opacity="0.90" filter="url(#b1)"/>
<rect x="432.5" y="180.4" width="13" height="2.6" rx="1.3" fill="#0a0a0a" opacity="0.50" filter="url(#b1)"/>
<rect x="432.5" y="184.9" width="13" height="2.6" rx="1.3" fill="#0a0a0a" opacity="0.55" filter="url(#b1)"/>
<rect x="452.8" y="175.8" width="15" height="13.5" rx="4.0" fill="#0a0a0a" opacity="0.93" filter="url(#b1)"/>
<rect x="455.8" y="187.0" width="9" height="6" rx="3.0" fill="#0a0a0a" opacity="0.50" filter="url(#b2)"/>
<rect x="474.1" y="176.6" width="13.5" height="3.6" rx="1.8" fill="#0a0a0a" opacity="0.80" filter="url(#b1)"/>
<rect x="474.1" y="180.6" width="13.5" height="4.0" rx="2.0" fill="#0a0a0a" opacity="0.80" filter="url(#b1)"/>
<rect x="474.3" y="177.0" width="13" height="7" rx="2.0" fill="#0a0a0a" opacity="0.50" filter="url(#b1)"/>
<rect x="494.8" y="176.3" width="14" height="3.8" rx="1.9" fill="#0a0a0a" opacity="0.85" filter="url(#b1)"/>
<rect x="494.8" y="180.6" width="14" height="4.0" rx="2.0" fill="#0a0a0a" opacity="0.85" filter="url(#b1)"/>
<rect x="495.1" y="176.9" width="13.5" height="7" rx="2.0" fill="#0a0a0a" opacity="0.55" filter="url(#b1)"/>
<rect x="455.3" y="197.0" width="10" height="6" rx="3.0" fill="#0a0a0a" opacity="0.12" filter="url(#b2)"/>
<rect x="496.8" y="197.5" width="10" height="5" rx="2.5" fill="#0a0a0a" opacity="0.10" filter="url(#b2)"/>
<rect x="497.3" y="217.2" width="9" height="3.5" rx="1.8" fill="#0a0a0a" opacity="0.25" filter="url(#b2)"/>
<rect x="455.8" y="217.0" width="9" height="4" rx="2.0" fill="#0a0a0a" opacity="0.12" filter="url(#b2)"/>
<circle cx="445" cy="219.2" r="1.1" fill="#111" opacity="0.75" filter="url(#b0)"/>
<circle cx="475.4" cy="225" r="0.8" fill="#111" opacity="0.8"/>
<rect x="435.0" y="240.8" width="12" height="3.0" rx="1.5" fill="#0a0a0a" opacity="0.50" filter="url(#b1)"/>
<rect x="451" y="263" width="61.5" height="62" rx="7" fill="#000" opacity="0.60" filter="url(#b2)"/>
<rect x="431" y="262" width="30" height="62" rx="7" fill="#000" opacity="0.2" filter="url(#b3)"/>
<ellipse cx="460.6" cy="243.3" rx="10.2" ry="12.3" fill="#000" opacity="0.82" filter="url(#b2)"/>
<ellipse cx="460.6" cy="243.3" rx="6" ry="7" fill="#000" opacity="0.25" filter="url(#b2)"/>
<ellipse cx="460.6" cy="273.0" rx="10.5" ry="12.0" fill="#000" opacity="0.55" filter="url(#b2)"/>
<ellipse cx="460.6" cy="304" rx="10.5" ry="11" fill="#000" opacity="0.4" filter="url(#b2)"/>
<ellipse cx="480.2" cy="243.3" rx="10.2" ry="12.3" fill="#000" opacity="0.82" filter="url(#b2)"/>
<ellipse cx="480.2" cy="243.3" rx="6" ry="7" fill="#000" opacity="0.25" filter="url(#b2)"/>
<ellipse cx="480.2" cy="273.0" rx="10.5" ry="12.0" fill="#000" opacity="0.55" filter="url(#b2)"/>
<ellipse cx="480.2" cy="304" rx="10.5" ry="11" fill="#000" opacity="0.4" filter="url(#b2)"/>
<ellipse cx="500.4" cy="243.3" rx="10.2" ry="12.3" fill="#000" opacity="0.82" filter="url(#b2)"/>
<ellipse cx="500.4" cy="243.3" rx="6" ry="7" fill="#000" opacity="0.25" filter="url(#b2)"/>
<ellipse cx="500.4" cy="273.0" rx="10.5" ry="12.0" fill="#000" opacity="0.55" filter="url(#b2)"/>
<ellipse cx="500.4" cy="304" rx="10.5" ry="11" fill="#000" opacity="0.4" filter="url(#b2)"/>
<ellipse cx="441.5" cy="273.5" rx="8.2" ry="7.2" fill="#000" opacity="0.8" filter="url(#b2)"/>
<ellipse cx="444.0" cy="301" rx="9.5" ry="5.2" fill="#000" opacity="0.55" filter="url(#b2)"/>
<rect x="436" y="292" width="22" height="30" rx="5" fill="#000" opacity="0.22" filter="url(#b3)"/>
<rect x="425" y="289.0" width="88" height="0.8" fill="#e8e8e8" opacity="0.38"/>
<rect x="513.2" y="65" width="8" height="260" fill="#fff" opacity="0.5" filter="url(#b0)"/>
</g></g>
</svg></body></html>
